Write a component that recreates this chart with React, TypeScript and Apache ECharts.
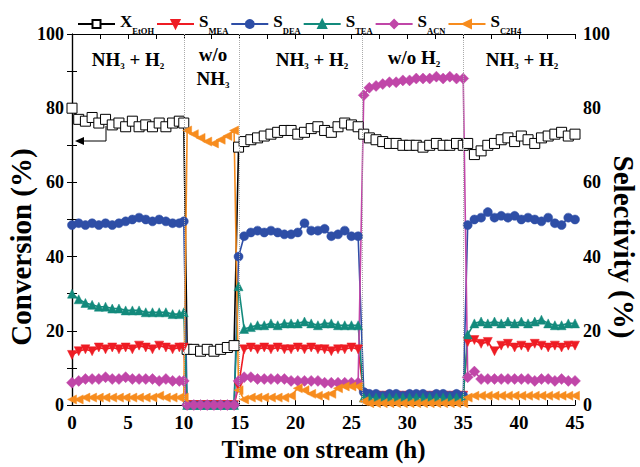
import React, { useEffect, useRef } from 'react';
import * as echarts from 'echarts';

const times = [
  0, 0.6, 1.2, 1.8, 2.4, 3.0, 3.6, 4.2, 4.8, 5.4, 6.0, 6.6, 7.2, 7.8, 8.4, 9.0, 9.6, 10.0,
  10.3, 10.9, 11.5, 12.1, 12.7, 13.3, 13.9, 14.5,
  14.9, 15.4, 16.0, 16.6, 17.2, 17.8, 18.4, 19.0, 19.6, 20.2, 20.8, 21.4, 22.0, 22.6, 23.2, 23.8, 24.4, 25.0, 25.6,
  26.1, 26.6, 27.2, 27.8, 28.4, 29.0, 29.6, 30.2, 30.8, 31.4, 32.0, 32.6, 33.2, 33.8, 34.4, 35.0,
  35.4, 36.0, 36.6, 37.2, 37.8, 38.4, 39.0, 39.6, 40.2, 40.8, 41.4, 42.0, 42.6, 43.2, 43.8, 44.4, 45.0,
];

const xEtOH = [
  80, 77, 76.5, 77.5, 76, 77, 75.5, 76, 75, 76.5, 75, 75.5, 75, 76, 75, 76, 76.5, 76,
  15, 15, 14.5, 15, 14.5, 15, 15.5, 16,
  69.5, 71, 71.5, 72, 72.5, 73, 73.5, 74, 74, 73, 73.5, 74.5, 75, 74, 73.5, 75, 76, 75.5, 75,
  73, 72, 71.5, 71, 70.5, 70.5, 70, 70, 70, 69.5, 70, 70.5, 70, 70, 70.5, 70,
  70.5, 67.5, 68.5, 70, 70.5, 71.5, 72, 71, 72.5, 71.5, 70.5, 72, 72.5, 73, 73.5, 72.5, 73,
];

const sMEA = [
  13.5, 14.5, 15, 14.5, 15.5, 15, 15.5, 15, 15.5, 15, 16, 15.5, 15, 16, 15.5, 15, 15.5, 15.5,
  0, 0, 0, 0, 0, 0, 0, 0,
  5, 15, 15.5, 15, 15.5, 15, 15.5, 15, 15, 15.5, 15, 15.5, 15, 15, 14.5, 15, 15, 15.5, 15,
  3, 2.5, 2.5, 2.5, 2.5, 2.5, 2.5, 2.5, 2.5, 2.5, 2.5, 2.5, 2.5, 2.5, 2.5, 2.5,
  17, 17.5, 16.5, 17, 14.5, 16, 16.5, 15.5, 16, 15.5, 16.5, 16, 15.5, 16, 15.5, 16, 16,
];

const sDEA = [
  48.5, 49, 48.5, 49, 48.5, 49, 48.5, 49, 49.5, 50, 50.5, 50, 49.5, 50, 49.5, 49, 49, 49.5,
  0, 0, 0, 0, 0, 0, 0, 0,
  40, 45.5, 46.5, 47, 46.5, 47, 46.5, 46, 46, 46.5, 49, 47, 47, 47.5, 45.5, 46, 47, 45.5, 45.5,
  3.5, 3, 3, 2.5, 3, 3, 2.5, 3, 3, 3, 2.5, 3, 3, 2.5, 3, 2.5,
  48.5, 50, 50.5, 52, 50.5, 51, 50.5, 51, 50, 50.5, 50, 49.5, 50.5, 49, 48.5, 50.5, 50,
];

const sTEA = [
  30, 28.5, 27.5, 27, 26.5, 26.5, 26, 26, 25.5, 25.5, 25.5, 25, 25, 25, 25, 24.5, 24.5, 25,
  0, 0, 0, 0, 0, 0, 0, 0,
  32, 20.5, 21, 21.5, 21.5, 22, 21.5, 22, 22, 22, 22.5, 22, 21.5, 22, 22, 21.5, 21.5, 21.5, 21.5,
  2, 2, 2, 2, 2, 2, 2, 2, 2, 2, 2, 2, 2, 2, 2, 2,
  19, 22, 22.5, 22, 22.5, 22, 22.5, 22, 22.5, 22, 22.5, 23, 22, 21.5, 21.5, 22, 22,
];

const sACN = [
  6, 6.5, 7, 7, 7, 7.5, 7, 7, 7.5, 7, 7, 7, 7, 6.5, 7, 6.5, 6.5, 6.5,
  0, 0, 0, 0, 0, 0, 0, 0,
  6.5, 7.5, 7.5, 7, 7, 7, 7, 7, 6.5, 6.5, 6.5, 6.5, 6.5, 6, 6, 6, 6, 6, 6,
  83.5, 85.5, 86, 86.5, 87, 87, 87.5, 87.5, 88, 88, 88, 88.5, 88, 88.5, 88, 88,
  7.5, 9, 7, 7, 7, 7, 7, 7, 7, 7, 6.5, 7, 7, 6.5, 7, 6.5, 6.5,
];

const sC2H4 = [
  1.5, 1.5, 2, 2, 2, 2, 2, 2, 2, 2, 2, 2, 2, 2.5, 2, 2, 2, 2,
  74, 73, 72, 71, 70.5, 71.5, 72.5, 74,
  4, 1.5, 2, 2, 2, 2, 2, 2, 2.5, 4.5, 4, 3, 2.5, 2.5, 3, 4.5, 5, 5, 5,
  1, 0.5, 0.5, 0.5, 0.5, 0.5, 0.5, 0.5, 0.5, 0.5, 0.5, 0.5, 0.5, 0.5, 0.5, 0.5,
  2, 2.5, 2.5, 2.5, 2.5, 2.5, 2.5, 2.5, 2.5, 2.5, 2.5, 2.5, 2.5, 2.5, 2.5, 2.5, 2.5,
];

const switchTimes = [10, 15, 26, 35];

const FONT = '"Liberation Serif", "Times New Roman", serif';

export default function App() {
  const ref = useRef<HTMLDivElement>(null);
  useEffect(() => {
    const chart = echarts.init(ref.current!, null, { renderer: 'svg' });

    const mk = (
      name: string,
      vals: number[],
      color: string,
      symbol: string,
      rotate: number,
      size: number,
      fill: string,
      yIdx: number,
      extra: any = {}
    ) => ({
      type: 'line',
      name,
      yAxisIndex: yIdx,
      data: times.map((t, i) => [t, vals[i]]),
      symbol,
      symbolSize: size,
      symbolRotate: rotate,
      showAllSymbol: true,
      lineStyle: { color, width: 1.6 },
      itemStyle: { color: fill, borderColor: color, borderWidth: fill === '#ffffff' ? 1 : 0.5 },
      emphasis: { disabled: true },
      ...extra,
    });

    const legendText: Record<string, string> = {
      X_EtOH: '{m|X}{s|EtOH}',
      S_MEA: '{m|S}{s|MEA}',
      S_DEA: '{m|S}{s|DEA}',
      S_TEA: '{m|S}{s|TEA}',
      S_ACN: '{m|S}{s|ACN}',
      S_C2H4: '{m|S}{s|C2H4}',
    };

    const axisLabel = { color: '#000', fontFamily: FONT, fontWeight: 'bold', fontSize: 19 };
    const nameStyle = { color: '#000', fontFamily: FONT, fontWeight: 'bold', fontSize: 25 };

    const annoRich = {
      a: { fontFamily: FONT, fontWeight: 'bold', fontSize: 19, fill: '#000', padding: [0, 0, 2, 0], verticalAlign: 'bottom' },
      b: { fontFamily: FONT, fontWeight: 'bold', fontSize: 9, fill: '#000', verticalAlign: 'bottom' },
    };
    const anno = (text: string, x: number, y: number) => ({
      type: 'text',
      x,
      y,
      style: {
        text,
        align: 'center',
        verticalAlign: 'middle',
        rich: annoRich,
        fontFamily: FONT,
        fontWeight: 'bold',
        fontSize: 19,
        fill: '#000',
      },
    });
    const yTitle = (text: string, x: number, y: number, rotation: number) => ({
      type: 'text',
      x,
      y,
      rotation,
      style: {
        text,
        align: 'center',
        verticalAlign: 'middle',
        fontFamily: FONT,
        fontWeight: 'bold',
        fontSize: 29,
        fill: '#000',
      },
    });

    const option: any = {
      animation: false,
      backgroundColor: '#ffffff',
      grid: { left: 72, right: 65, top: 34, bottom: 62, outerBoundsMode: 'none', containLabel: false },
      legend: {
        left: 77,
        top: 13,
        itemWidth: 37,
        itemHeight: 10,
        itemGap: 2,
        padding: 0,
        data: ['X_EtOH', 'S_MEA', 'S_DEA', 'S_TEA', 'S_ACN', 'S_C2H4'],
        formatter: (n: string) => legendText[n],
        textStyle: {
          color: '#000',
          rich: {
            m: { fontFamily: FONT, fontWeight: 'bold', fontSize: 17, color: '#000', padding: [0, 0, 5, 0], verticalAlign: 'bottom' },
            s: { fontFamily: FONT, fontWeight: 'bold', fontSize: 8.5, color: '#000', verticalAlign: 'bottom' },
          },
        },
      },
      xAxis: [
        {
          type: 'value',
          min: 0,
          max: 45,
          interval: 5,
          name: 'Time on stream (h)',
          nameLocation: 'middle',
          nameGap: 29,
          nameTextStyle: nameStyle,
          axisLine: { show: true, onZero: false, lineStyle: { color: '#000', width: 1.2 } },
          axisTick: { show: true, inside: true, length: 5, lineStyle: { color: '#000' } },
          minorTick: { show: true, splitNumber: 2, length: 5, lineStyle: { color: '#000' } },
          axisLabel: { ...axisLabel, margin: 8 },
          splitLine: { show: false },
        },
        {
          type: 'value',
          position: 'top',
          min: 0,
          max: 45,
          interval: 5,
          axisLine: { show: true, onZero: false, lineStyle: { color: '#000', width: 1.2 } },
          axisTick: { show: true, inside: true, length: 5, lineStyle: { color: '#000' } },
          minorTick: { show: true, splitNumber: 2, length: 5, lineStyle: { color: '#000' } },
          axisLabel: { show: false },
          splitLine: { show: false },
        },
      ],
      yAxis: [
        {
          type: 'value',
          min: 0,
          max: 100,
          interval: 20,
          axisLine: { show: true, lineStyle: { color: '#000', width: 1.2 } },
          axisTick: { show: true, inside: true, length: 5, lineStyle: { color: '#000' } },
          minorTick: { show: true, splitNumber: 2, length: 5, lineStyle: { color: '#000' } },
          axisLabel: { ...axisLabel, fontSize: 18, margin: 8 },
          splitLine: { show: false },
        },
        {
          type: 'value',
          position: 'right',
          min: 0,
          max: 100,
          interval: 20,
          axisLine: { show: true, lineStyle: { color: '#000', width: 1.2 } },
          axisTick: { show: true, inside: true, length: 5, lineStyle: { color: '#000' } },
          minorTick: { show: true, splitNumber: 2, length: 5, lineStyle: { color: '#000' } },
          axisLabel: { ...axisLabel, fontSize: 18, margin: 8 },
          splitLine: { show: false },
        },
      ],
      series: [
        mk('X_EtOH', xEtOH, '#000000', 'rect', 0, 10, '#ffffff', 0, {
          z: 3,
          markLine: {
            silent: true,
            symbol: 'none',
            label: { show: false },
            lineStyle: { color: '#aaa', type: 'dotted', width: 1 },
            data: switchTimes.map((t) => ({ xAxis: t })),
          },
        }),
        mk('S_MEA', sMEA, '#ee1c24', 'triangle', 180, 9, '#ee1c24', 1),
        mk('S_DEA', sDEA, '#2e4ea6', 'circle', 0, 9, '#2e4ea6', 1),
        mk('S_TEA', sTEA, '#138a7c', 'triangle', 0, 9, '#138a7c', 1),
        mk('S_ACN', sACN, '#c046a8', 'diamond', 0, 11, '#c046a8', 1),
        mk('S_C2H4', sC2H4, '#f78c1e', 'triangle', 90, 9, '#f78c1e', 1),
      ],
      graphic: [
        anno('{a|NH}{b|3}{a| + H}{b|2}', 128, 60),
        anno('{a|w/o}', 213, 55),
        anno('{a|NH}{b|3}', 213, 79),
        anno('{a|NH}{b|3}{a| + H}{b|2}', 312, 60),
        anno('{a|w/o H}{b|2}', 414, 58),
        anno('{a|NH}{b|3}{a| + H}{b|2}', 522, 60),
        yTitle('Conversion (%)', 21, 247, Math.PI / 2),
        yTitle('Selectivity (%)', 624, 247, -Math.PI / 2),
        {
          type: 'polyline',
          shape: { points: [[106, 126], [106, 141], [83, 141]] },
          style: { stroke: '#000', lineWidth: 1, fill: 'none' },
        },
        {
          type: 'polygon',
          shape: { points: [[75, 141], [84, 137], [84, 145]] },
          style: { fill: '#000' },
        },
      ],
    };

    chart.setOption(option);
    return () => chart.dispose();
  }, []);
  return (
    <div
      ref={ref}
      style={{ position: 'fixed', left: 0, top: 0, width: 640, height: 467, background: '#fff' }}
    />
  );
}
